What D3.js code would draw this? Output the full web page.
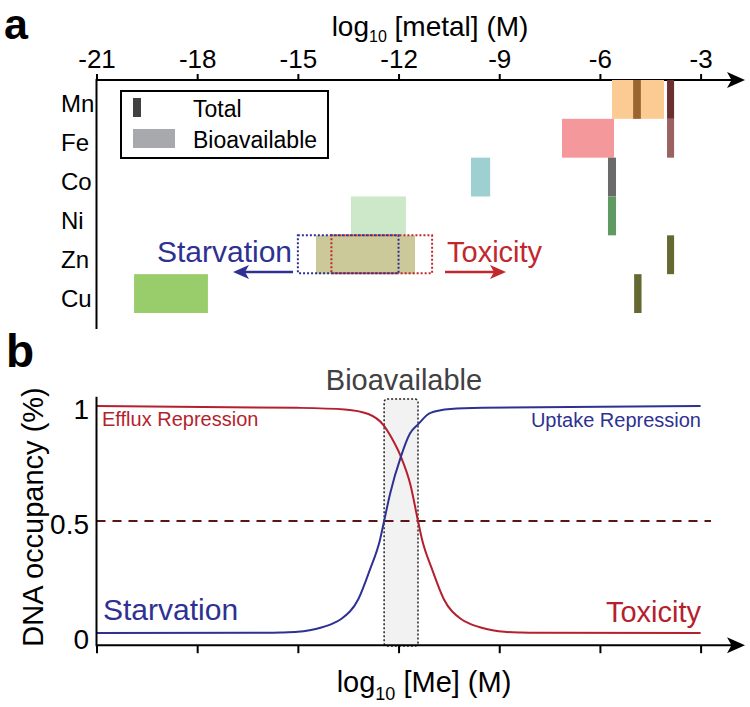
<!DOCTYPE html>
<html>
<head>
<meta charset="utf-8">
<script src="https://cdnjs.cloudflare.com/ajax/libs/d3/7.8.5/d3.min.js"></script>
<style>
  body { margin: 0; background: #fff; }
  svg text { font-family: "Liberation Sans", Arial, Helvetica, sans-serif; }
</style>
</head>
<body>
<svg id="chart" width="750" height="707"></svg>
<script>
  // panel a data
  var metals = ["Mn", "Fe", "Co", "Ni", "Zn", "Cu"];
  var bioLo = [-5.64, -7.13, -9.84, -13.42, -14.46, -19.88];
  var bioHi = [-4.09, -5.58, -9.27, -11.78, -11.51, -17.68];
  var bioColors = ["#fccb93", "#f4989b", "#9ecfd1", "#cce8c9", "#cbc99a", "#99cc6b"];

  var totalMetal = ["Mn", "Mn", "Fe", "Co", "Ni", "Zn", "Cu"];
  var totalLo = [-5.01, -4.0, -4.0, -5.76, -5.76, -4.0, -4.98];
  var totalHi = [-4.78, -3.79, -3.79, -5.52, -5.52, -3.79, -4.76];
  var totalColors = ["#9b6430", "#6b2f30", "#9b6161", "#6a6a6a", "#5f9a62", "#656830", "#656830"];

  var topTicks = [-21, -18, -15, -12, -9, -6, -3];
  var starveBox = [-15, -12];
  var toxicBox = [-14, -11];

  // panel b data
  var upX = [-21, -16, -15.5, -15, -14.65, -14.3, -13.95, -13.7, -13.2, -12.85, -12.55, -12.43, -12.25, -11.93, -11.66, -11.42, -11.05, -10.45, -9.5, -3];
  var upY = [0.013, 0.014, 0.015, 0.018, 0.025, 0.037, 0.055, 0.075, 0.16, 0.29, 0.42, 0.5, 0.62, 0.78, 0.88, 0.92, 0.97, 0.987, 0.992, 1.0];
  var effX = [-21, -15, -13.6, -12.9, -12.45, -12.2, -11.93, -11.65, -11.42, -11.3, -11.0, -10.65, -10.15, -9.9, -9.55, -9.2, -8.85, -8.35, -7.8, -3];
  var effY = [1.0, 0.992, 0.985, 0.965, 0.917, 0.86, 0.78, 0.66, 0.5, 0.42, 0.29, 0.16, 0.075, 0.055, 0.037, 0.025, 0.018, 0.015, 0.014, 0.013];
  var yTicks = [0, 0.5, 1];
  var yTickLabels = ["0", "0.5", "1"];
  var bioWindow = [-12.43, -11.42];

  var blue = "#2e3192", red = "#b51f2e";
  var svg = d3.select("#chart");

  function arrowHead(g, x, y, dir, len, half, color) {
    g.append("path")
      .attr("d", "M" + x + "," + y + "L" + (x - dir * len) + "," + (y - half) +
        "L" + (x - dir * len * 0.75) + "," + y + "L" + (x - dir * len) + "," + (y + half) + "Z")
      .attr("fill", color);
  }

  // ---------- panel a ----------
  var xA = d3.scaleLinear().domain([-21, -3]).range([96.5, 700.6]);
  var yRow = d3.scaleBand().domain(metals).range([80, 313]);

  svg.append("text").attr("x", 4).attr("y", 39)
    .style("font-size", "43px").style("font-weight", "bold").text("a");

  var t1 = svg.append("text").attr("x", 430).attr("y", 36)
    .attr("text-anchor", "middle").style("font-size", "28px");
  t1.append("tspan").text("log");
  t1.append("tspan").attr("dy", 6).style("font-size", "16px").text("10");
  t1.append("tspan").attr("dy", -6).text(" [metal] (M)");

  var topAxis = svg.append("g").attr("transform", "translate(0,80)")
    .call(d3.axisTop(xA).tickValues(topTicks).tickSize(6).tickPadding(6)
      .tickFormat(function(d){ return "-" + Math.abs(d); }));
  topAxis.select(".domain").remove();
  topAxis.selectAll("line").attr("stroke", "#000").attr("stroke-width", 2);
  topAxis.selectAll("text").style("font-size", "26px").attr("fill", "#000");

  svg.append("line").attr("x1", 96.5).attr("x2", 735).attr("y1", 80).attr("y2", 80)
    .attr("stroke", "#000").attr("stroke-width", 2);
  arrowHead(svg, 745, 80, 1, 18, 8, "#000");
  svg.append("line").attr("x1", 96.5).attr("x2", 96.5).attr("y1", 79).attr("y2", 329)
    .attr("stroke", "#000").attr("stroke-width", 2);

  svg.selectAll(".rowlab").data(metals).enter().append("text")
    .attr("class", "rowlab")
    .attr("x", 61)
    .attr("y", function(d){ return yRow(d) + yRow.bandwidth() / 2 + 13; })
    .style("font-size", "24px")
    .text(function(d){ return d; });

  svg.selectAll(".bio").data(metals).enter().append("rect")
    .attr("class", "bio")
    .attr("x", function(d, i){ return xA(bioLo[i]); })
    .attr("width", function(d, i){ return xA(bioHi[i]) - xA(bioLo[i]); })
    .attr("y", function(d){ return yRow(d); })
    .attr("height", yRow.bandwidth())
    .attr("fill", function(d, i){ return bioColors[i]; });

  svg.selectAll(".tot").data(totalMetal).enter().append("rect")
    .attr("class", "tot")
    .attr("x", function(d, i){ return xA(totalLo[i]); })
    .attr("width", function(d, i){ return xA(totalHi[i]) - xA(totalLo[i]); })
    .attr("y", function(d){ return yRow(d); })
    .attr("height", yRow.bandwidth())
    .attr("fill", function(d, i){ return totalColors[i]; });

  // dotted starvation / toxicity windows on the Zn row
  var znY = yRow("Zn");
  svg.append("rect").attr("x", xA(toxicBox[0])).attr("y", znY)
    .attr("width", xA(toxicBox[1]) - xA(toxicBox[0])).attr("height", yRow.bandwidth() - 1)
    .attr("fill", "none").attr("stroke", "#c1272d").attr("stroke-width", 2).attr("stroke-dasharray", "2,2");
  svg.append("rect").attr("x", xA(starveBox[0])).attr("y", znY)
    .attr("width", xA(starveBox[1]) - xA(starveBox[0])).attr("height", yRow.bandwidth() - 1)
    .attr("fill", "none").attr("stroke", blue).attr("stroke-width", 2).attr("stroke-dasharray", "2,2");

  svg.append("text").attr("x", 292).attr("y", 262).attr("text-anchor", "end")
    .style("font-size", "30px").attr("fill", blue).text("Starvation");
  svg.append("line").attr("x1", 293).attr("x2", 243).attr("y1", 272).attr("y2", 272)
    .attr("stroke", blue).attr("stroke-width", 2.5);
  arrowHead(svg, 233, 272, -1, 16, 7, blue);

  svg.append("text").attr("x", 447).attr("y", 262)
    .style("font-size", "29px").attr("fill", "#c1272d").text("Toxicity");
  svg.append("line").attr("x1", 445).attr("x2", 496).attr("y1", 272).attr("y2", 272)
    .attr("stroke", "#c1272d").attr("stroke-width", 2.5);
  arrowHead(svg, 506, 272, 1, 16, 7, "#c1272d");

  // legend
  var leg = svg.append("g");
  leg.append("rect").attr("x", 121).attr("y", 91).attr("width", 207).attr("height", 67)
    .attr("fill", "#fff").attr("stroke", "#000").attr("stroke-width", 2);
  leg.append("rect").attr("x", 133).attr("y", 98).attr("width", 8).attr("height", 19).attr("fill", "#414042");
  leg.append("rect").attr("x", 133).attr("y", 129).attr("width", 42).attr("height", 19).attr("fill", "#a7a9ac");
  leg.append("text").attr("x", 193).attr("y", 117).style("font-size", "23px").text("Total");
  leg.append("text").attr("x", 193).attr("y", 148).style("font-size", "23px").text("Bioavailable");

  // ---------- panel b ----------
  var yB = d3.scaleLinear().domain([0, 1]).range([636, 406]);

  svg.append("text").attr("x", 6).attr("y", 367)
    .style("font-size", "46px").style("font-weight", "bold").text("b");

  svg.append("rect").attr("x", xA(bioWindow[0])).attr("y", yB(1.03))
    .attr("width", xA(bioWindow[1]) - xA(bioWindow[0])).attr("height", yB(-0.043) - yB(1.03))
    .attr("rx", 3).attr("fill", "#f2f2f2")
    .attr("stroke", "#222").attr("stroke-width", 1.5).attr("stroke-dasharray", "2,2");
  svg.append("text").attr("x", 404).attr("y", 390).attr("text-anchor", "middle")
    .style("font-size", "29px").attr("fill", "#414042").text("Bioavailable");

  svg.append("line").attr("x1", xA(-21)).attr("x2", 711).attr("y1", yB(0.5)).attr("y2", yB(0.5))
    .attr("stroke", "#5a1518").attr("stroke-width", 2).attr("stroke-dasharray", "9,7");

  var line = d3.line().curve(d3.curveMonotoneX)
    .x(function(d){ return xA(d[0]); }).y(function(d){ return yB(d[1]); });
  svg.append("path").datum(d3.zip(effX, effY)).attr("d", line)
    .attr("fill", "none").attr("stroke", red).attr("stroke-width", 2);
  svg.append("path").datum(d3.zip(upX, upY)).attr("d", line)
    .attr("fill", "none").attr("stroke", blue).attr("stroke-width", 2);

  var botY = yB(-0.04);
  var botAxis = svg.append("g").attr("transform", "translate(0," + botY + ")")
    .call(d3.axisBottom(xA).tickValues(topTicks).tickSize(8).tickFormat(""));
  botAxis.select(".domain").remove();
  botAxis.selectAll("line").attr("stroke", "#000").attr("stroke-width", 2);
  svg.append("line").attr("x1", 96.5).attr("x2", 735).attr("y1", botY).attr("y2", botY)
    .attr("stroke", "#000").attr("stroke-width", 2);
  arrowHead(svg, 745, botY, 1, 18, 8, "#000");
  svg.append("line").attr("x1", 96.5).attr("x2", 96.5).attr("y1", yB(1.04)).attr("y2", botY + 1)
    .attr("stroke", "#000").attr("stroke-width", 2);

  svg.selectAll(".ytl").data(yTicks).enter().append("text")
    .attr("class", "ytl")
    .attr("x", 89).attr("y", function(d){ return yB(d) + 13; })
    .attr("text-anchor", "end").style("font-size", "28px")
    .text(function(d, i){ return yTickLabels[i]; });

  svg.append("text").attr("transform", "translate(43,517) rotate(-90)")
    .attr("text-anchor", "middle").style("font-size", "29px").text("DNA occupancy (%)");

  var t2 = svg.append("text").attr("x", 424).attr("y", 692)
    .attr("text-anchor", "middle").style("font-size", "29px");
  t2.append("tspan").text("log");
  t2.append("tspan").attr("dy", 8).style("font-size", "18px").text("10");
  t2.append("tspan").attr("dy", -8).text(" [Me] (M)");

  svg.append("text").attr("x", 102).attr("y", 426).style("font-size", "20px")
    .attr("fill", red).text("Efflux Repression");
  svg.append("text").attr("x", 701).attr("y", 427).attr("text-anchor", "end").style("font-size", "20px")
    .attr("fill", blue).text("Uptake Repression");
  svg.append("text").attr("x", 103).attr("y", 620).style("font-size", "30px")
    .attr("fill", blue).text("Starvation");
  svg.append("text").attr("x", 701).attr("y", 622).attr("text-anchor", "end").style("font-size", "29px")
    .attr("fill", red).text("Toxicity");
</script>
</body>
</html>
